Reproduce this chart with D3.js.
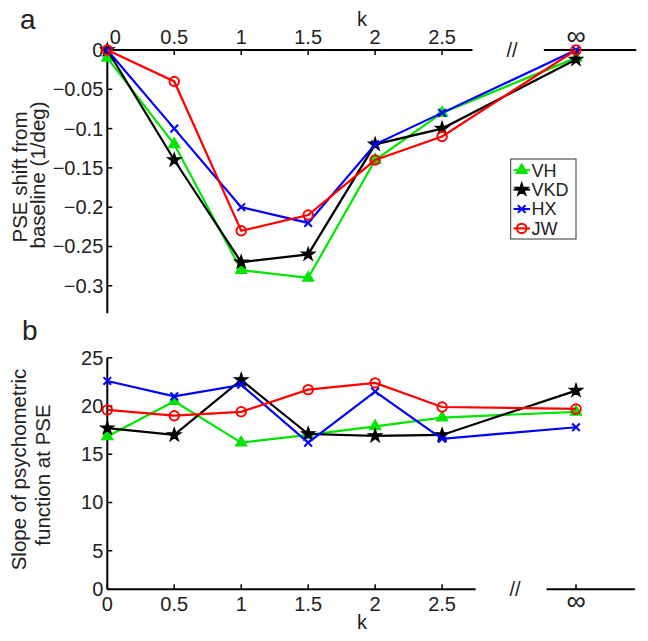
<!DOCTYPE html>
<html>
<head>
<meta charset="utf-8">
<script src="https://cdn.jsdelivr.net/npm/d3@7"></script>
<style>
  body { margin: 0; background: #fff; }
  svg text { font-family: "Liberation Sans", Arial, sans-serif; fill: #222; }
</style>
</head>
<body>
<div id="chart"></div>
<script>
// k conditions; the infinite case sits past the axis break at 3.5
const kLabels = ["0", "0.5", "1", "1.5", "2", "2.5", "\u221e"];
const kValues = [0, 0.5, 1, 1.5, 2, 2.5, 3.5];

const subjects = ["VH", "VKD", "HX", "JW"];
const colors = ["#00e600", "#000000", "#0000ff", "#ff0000"];

// panel a: PSE shift from baseline (1/deg)
const pseVH  = [-0.01, -0.12, -0.28, -0.29, -0.14, -0.08, -0.01];
const pseVKD = [0, -0.14, -0.27, -0.26, -0.12, -0.10, -0.012];
const pseHX  = [0, -0.10, -0.20, -0.22, -0.12, -0.08, 0];
const pseJW  = [0, -0.04, -0.23, -0.21, -0.14, -0.11, 0];
const pseTicks = [0, -0.05, -0.1, -0.15, -0.2, -0.25, -0.3];

// panel b: slope of psychometric function at PSE
const slopeVH  = [16.85, 20.5, 16.2, 17.0, 17.9, 18.8, 19.4];
const slopeVKD = [17.7, 17.0, 22.7, 17.1, 16.9, 17.0, 21.6];
const slopeHX  = [22.6, 21.0, 22.2, 16.2, 21.5, 16.6, 17.8];
const slopeJW  = [19.6, 19.0, 19.4, 21.7, 22.4, 19.9, 19.7];
const slopeTicks = [0, 5, 10, 15, 20, 25];

const W = 648, H = 641;
const FS = 20; // tick font size

const svg = d3.select("#chart").append("svg")
    .attr("width", W)
    .attr("height", H);

const x = d3.scaleLinear().domain([0, 3.5]).range([107.3, 576]);

const markers = [
    { type: d3.symbolTriangle, size: 55, fill: true },
    { type: d3.symbolStar, size: 55, fill: true },
    { type: d3.symbolTimes, size: 40, fill: false },
    { type: d3.symbolCircle, size: 70, fill: false }
];

function drawMarker(g, i, px, py) {
    const m = markers[i];
    g.append("path")
        .attr("transform", `translate(${px},${py})`)
        .attr("d", d3.symbol().type(m.type).size(m.size)())
        .attr("fill", m.fill ? colors[i] : "none")
        .attr("stroke", colors[i])
        .attr("stroke-width", m.fill ? 1.2 : 2);
}

function drawPanel(opts) {
    const { y, series, ticks, axisY, top, yLabelLines, letter, letterPos, kLabelY, breakX, seg1, seg2 } = opts;
    const g = svg.append("g");
    const dir = top ? 1 : -1; // ticks point into the plot

    // x axis, broken before infinity
    [seg1, seg2].forEach(s => {
        g.append("line")
            .attr("x1", x(s[0])).attr("x2", x(s[1]))
            .attr("y1", axisY).attr("y2", axisY)
            .attr("stroke", "#000").attr("stroke-width", 2);
    });
    g.append("text")
        .attr("x", breakX).attr("y", axisY)
        .attr("dy", "0.35em")
        .attr("text-anchor", "middle")
        .attr("font-size", FS)
        .text("//");

    kValues.forEach((k, i) => {
        const inf = i === kValues.length - 1;
        g.append("line")
            .attr("x1", x(k)).attr("x2", x(k))
            .attr("y1", axisY).attr("y2", axisY + dir * 5)
            .attr("stroke", "#000").attr("stroke-width", 1.5);
        g.append("text")
            .attr("x", x(k) + (top && i === 0 ? 8 : 0))
            .attr("y", top ? axisY - (inf ? 5 : 6) : axisY + (inf ? 21 : 22))
            .attr("text-anchor", "middle")
            .attr("font-size", inf ? 27 : FS)
            .text(kLabels[i]);
    });
    g.append("text")
        .attr("x", 362).attr("y", kLabelY)
        .attr("text-anchor", "middle")
        .attr("font-size", FS)
        .text("k");

    // y axis
    const yr = y.range();
    g.append("line")
        .attr("x1", x(0)).attr("x2", x(0))
        .attr("y1", yr[0]).attr("y2", yr[1])
        .attr("stroke", "#000").attr("stroke-width", 2);
    ticks.forEach(t => {
        g.append("line")
            .attr("x1", x(0)).attr("x2", x(0) + 5)
            .attr("y1", y(t)).attr("y2", y(t))
            .attr("stroke", "#000").attr("stroke-width", 1.5);
        g.append("text")
            .attr("x", x(0) - 4).attr("y", y(t))
            .attr("dy", "0.35em")
            .attr("text-anchor", "end")
            .attr("font-size", FS)
            .text(d3.format("")(t));
    });

    yLabelLines.forEach(l => {
        g.append("text")
            .attr("transform", `translate(${l.x},${l.y}) rotate(-90)`)
            .attr("text-anchor", "middle")
            .attr("font-size", 20.5)
            .text(l.text);
    });

    g.append("text")
        .attr("x", letterPos[0]).attr("y", letterPos[1])
        .attr("font-size", 28)
        .text(letter);

    // series
    const line = d3.line().x((d, i) => x(kValues[i])).y(d => y(d));
    series.forEach((vals, si) => {
        g.append("path")
            .attr("d", line(vals))
            .attr("fill", "none")
            .attr("stroke", colors[si])
            .attr("stroke-width", 2.2);
        vals.forEach((v, i) => drawMarker(g, si, x(kValues[i]), y(v)));
    });
}

// panel a
const yA = d3.scaleLinear().domain([0, -0.335]).range([50, 313.3]);
drawPanel({
    y: yA,
    series: [pseVH, pseVKD, pseHX, pseJW],
    ticks: pseTicks,
    axisY: 50,
    top: true,
    yLabelLines: [
        { text: "PSE shift from", x: 27, y: 177 },
        { text: "baseline (1/deg)", x: 45, y: 175 }
    ],
    letter: "a",
    letterPos: [20, 29],
    kLabelY: 26,
    breakX: 512,
    seg1: [0, 2.727],
    seg2: [3.26, 3.95]
});

// panel b: the x axis sits at about 1 on this scale, the "0" tick is clamped onto it
const yB = d3.scaleLinear().domain([1, 25]).range([589.3, 357.8]).clamp(true);
drawPanel({
    y: yB,
    series: [slopeVH, slopeVKD, slopeHX, slopeJW],
    ticks: slopeTicks,
    axisY: 589.3,
    top: false,
    yLabelLines: [
        { text: "Slope of psychometric", x: 26, y: 469.5 },
        { text: "function at PSE", x: 50, y: 475 }
    ],
    letter: "b",
    letterPos: [22, 340],
    kLabelY: 629,
    breakX: 515,
    seg1: [0, 2.75],
    seg2: [3.28, 3.94]
});

// legend
const leg = svg.append("g");
leg.append("rect")
    .attr("x", 510.7).attr("y", 159)
    .attr("width", 65.3).attr("height", 80)
    .attr("fill", "#fff")
    .attr("stroke", "#333").attr("stroke-width", 1);
subjects.forEach((name, i) => {
    const ly = 170.2 + i * 19.4;
    leg.append("line")
        .attr("x1", 513.5).attr("x2", 530)
        .attr("y1", ly).attr("y2", ly)
        .attr("stroke", colors[i]).attr("stroke-width", 2);
    drawMarker(leg, i, 521.7, ly);
    leg.append("text")
        .attr("x", 531.5).attr("y", ly)
        .attr("dy", "0.35em")
        .attr("font-size", 18)
        .text(name);
});
</script>
</body>
</html>
